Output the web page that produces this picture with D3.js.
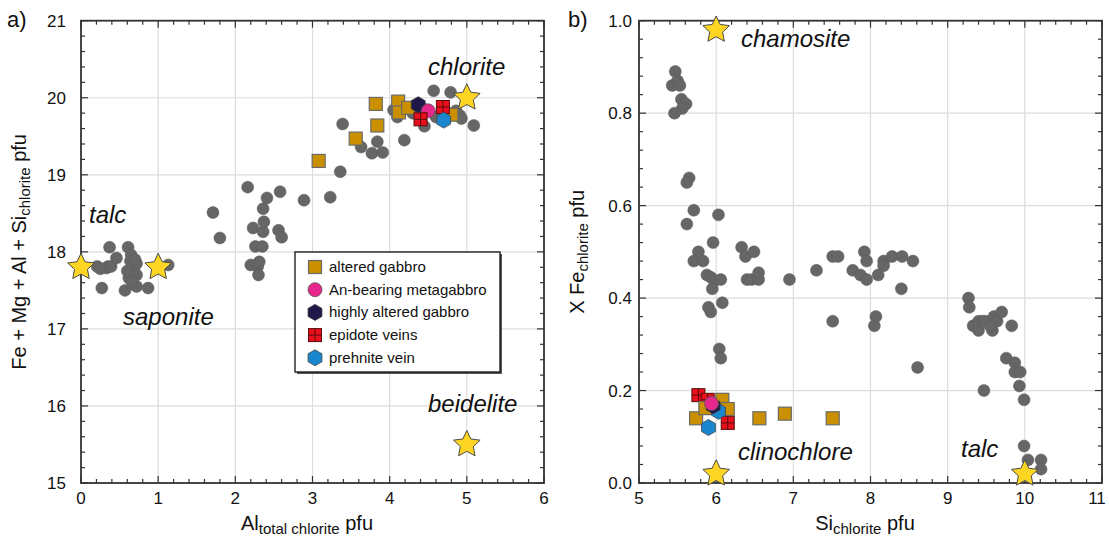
<!DOCTYPE html>
<html>
<head>
<meta charset="utf-8">
<script src="https://cdn.jsdelivr.net/npm/d3@7"></script>
<style>
  body { margin: 0; background: #fff; }
  svg { display: block; }
  text { font-family: "Liberation Sans", Arial, Helvetica, sans-serif; fill: #111; }
</style>
</head>
<body>
<svg id="chart" width="1109" height="540"></svg>
<script>
// ---------- Panel a: Al(total) vs Fe + Mg + Al + Si (pfu) ----------
const grayA = [
  [0.21,17.81],[0.27,17.53],[0.33,17.79],[0.35,17.81],[0.37,18.06],[0.39,17.81],[0.46,17.92],
  [0.57,17.50],[0.61,18.06],[0.62,17.66],[0.65,17.96],[0.68,17.58],[0.69,17.79],[0.72,17.70],
  [0.72,17.85],[0.72,17.55],[0.87,17.53],[1.13,17.83],[0.60,17.75],[0.64,17.88],[0.66,17.62],
  [0.70,17.90],[0.25,17.78],
  [1.71,18.51],[1.80,18.18],[2.16,18.84],[2.23,18.31],[2.20,17.83],[2.26,18.07],[2.29,17.81],
  [2.30,17.70],[2.31,17.87],[2.35,18.07],[2.36,18.26],[2.36,18.56],[2.37,18.39],[2.41,18.70],
  [2.56,18.28],[2.58,18.78],[2.60,18.19],[2.89,18.67],[3.23,18.71],[3.36,19.04],[3.39,19.66],
  [3.63,19.36],[3.77,19.28],[3.84,19.43],[3.91,19.29],[4.05,19.84],[4.10,19.75],[4.19,19.45],
  [4.45,19.63],[4.57,20.09],[4.79,20.07],[4.86,19.83],[4.91,19.77],[4.93,19.73],[5.09,19.64],
  [4.30,19.80],[4.60,19.75],[4.45,19.85],[4.75,19.80]
];
const gabbroA   = [[3.08,19.18],[3.56,19.47],[3.82,19.92],[3.84,19.64],[4.11,19.95],[4.12,19.81],[4.24,19.87],[4.80,19.78]];
const highlyA   = [[4.37,19.91]];
const anBearA   = [[4.50,19.83]];
const epidoteA  = [[4.40,19.72],[4.69,19.88]];
const prehniteA = [[4.70,19.71]];
const endA      = [[0,17.8],[1,17.8],[5,20.0],[5,15.5]];
const xTicksA   = [0,1,2,3,4,5,6];
const yTicksA   = [15,16,17,18,19,20,21];

// ---------- Panel b: Si vs X Fe (pfu) ----------
const grayB = [
  [5.43,0.86],[5.47,0.89],[5.50,0.87],[5.53,0.86],[5.55,0.83],[5.61,0.82],[5.56,0.81],[5.46,0.80],
  [5.65,0.66],[5.62,0.65],[5.71,0.59],[6.03,0.58],[5.62,0.56],[5.96,0.52],[5.77,0.50],[5.71,0.48],
  [5.83,0.48],[6.33,0.51],[6.38,0.49],[6.49,0.50],[7.51,0.49],[7.58,0.49],[7.92,0.50],[7.95,0.48],
  [8.17,0.48],[8.17,0.47],[8.28,0.49],[8.41,0.49],[8.55,0.48],
  [5.88,0.45],[5.93,0.445],[5.98,0.438],[5.95,0.42],[6.06,0.44],[5.90,0.38],[5.93,0.37],[6.08,0.39],
  [6.04,0.29],[6.06,0.27],[6.40,0.44],[6.46,0.44],[6.55,0.44],[6.55,0.455],[6.95,0.44],[7.30,0.46],
  [7.51,0.35],[7.77,0.46],[7.87,0.45],[7.95,0.44],[8.10,0.45],[8.05,0.34],[8.07,0.36],[8.40,0.42],
  [8.61,0.25],
  [9.27,0.40],[9.28,0.38],[9.33,0.34],[9.40,0.33],[9.40,0.35],[9.45,0.35],[9.49,0.35],[9.58,0.33],
  [9.60,0.36],[9.64,0.35],[9.70,0.37],[9.83,0.34],[9.55,0.34],[9.47,0.20],[9.76,0.27],[9.87,0.26],
  [9.87,0.24],[9.94,0.24],[9.93,0.21],[9.99,0.18],[9.99,0.08],[10.04,0.05],[10.21,0.05],[10.21,0.03]
];
const gabbroB   = [[5.74,0.14],[5.86,0.162],[6.08,0.18],[6.15,0.16],[6.56,0.14],[6.89,0.15],[7.51,0.14]];
const epidoteB  = [[5.77,0.19],[5.89,0.18],[6.15,0.13]];
const highlyB   = [[5.96,0.167]];
const anBearB   = [[5.94,0.172]];
const prehniteB = [[5.90,0.12],[6.03,0.155]];
const endB      = [[6,0.98],[6,0.02],[10,0.02]];
const xTicksB   = [5,6,7,8,9,10,11];
const yTicksB   = [0,0.2,0.4,0.6,0.8,1.0];

// ---------- Legend ----------
const legendNames = ["altered gabbro","An-bearing metagabbro","highly altered gabbro","epidote veins","prehnite vein"];

// ---------- styling ----------
const W = 1109;
const C = {
  gray: "#666666", gold: "#CA9000", pink: "#E6288C", navy: "#21184A",
  red: "#E8101C", blue: "#1A86CE", star: "#FDD522", frame: "#333", grid: "#dcdcdc"
};

const svg = d3.select("#chart");

function starPath(R, r) {
  const pts = [];
  for (let i = 0; i < 10; i++) {
    const a = -Math.PI / 2 + i * Math.PI / 5;
    const rad = i % 2 === 0 ? R : r;
    pts.push([rad * Math.cos(a), rad * Math.sin(a)]);
  }
  return "M" + pts.map(p => p.join(",")).join("L") + "Z";
}
function hexPath(R) {
  const pts = [];
  for (let i = 0; i < 6; i++) {
    const a = -Math.PI / 2 + i * Math.PI / 3;
    pts.push([R * Math.cos(a), R * Math.sin(a)]);
  }
  return "M" + pts.map(p => p.join(",")).join("L") + "Z";
}

// marker painters, drawn at the origin of a translated group
const painters = {
  gabbro: g => g.append("rect").attr("x", -6.5).attr("y", -6.5).attr("width", 13).attr("height", 13)
                 .attr("fill", C.gold).attr("stroke", "#6a6a6a").attr("stroke-width", 1.2),
  anBear: g => g.append("circle").attr("r", 7).attr("fill", C.pink).attr("stroke", "#555").attr("stroke-width", 0.8),
  highly: g => g.append("path").attr("d", hexPath(8)).attr("fill", C.navy).attr("stroke", "#333").attr("stroke-width", 0.8),
  epidote: g => {
    g.append("rect").attr("x", -6.5).attr("y", -6.5).attr("width", 13).attr("height", 13)
      .attr("fill", C.red).attr("stroke", "#5a0a0a").attr("stroke-width", 1);
    g.append("path").attr("d", "M0,-6.5V6.5M-6.5,0H6.5").attr("stroke", "#5a0a0a").attr("stroke-width", 1);
  },
  prehnite: g => g.append("path").attr("d", hexPath(8)).attr("fill", C.blue).attr("stroke", "#444").attr("stroke-width", 0.8)
};

function drawPanel(cfg) {
  const x = d3.scaleLinear().domain(cfg.xDomain).range([cfg.left, cfg.right]);
  const y = d3.scaleLinear().domain(cfg.yDomain).range([cfg.bottom, cfg.top]);
  const g = svg.append("g");

  // grid
  g.selectAll(null).data(cfg.xTicks.slice(1, -1)).join("line")
    .attr("x1", d => x(d)).attr("x2", d => x(d)).attr("y1", cfg.top).attr("y2", cfg.bottom)
    .attr("stroke", C.grid).attr("stroke-width", 1.2);
  g.selectAll(null).data(cfg.yTicks.slice(1, -1)).join("line")
    .attr("y1", d => y(d)).attr("y2", d => y(d)).attr("x1", cfg.left).attr("x2", cfg.right)
    .attr("stroke", C.grid).attr("stroke-width", 1.2);

  // inward ticks on all four sides
  const xMinor = d3.range(cfg.xDomain[0], cfg.xDomain[1] + 1e-9, cfg.xMinor);
  const yMinor = d3.range(cfg.yDomain[0], cfg.yDomain[1] + 1e-9, cfg.yMinor);
  const isMajor = (v, arr) => arr.some(t => Math.abs(t - v) < 1e-6);
  const tk = g.append("g").attr("stroke", C.frame).attr("stroke-width", 1.2);
  xMinor.forEach(v => {
    const L = isMajor(v, cfg.xTicks) ? 7 : 4;
    tk.append("line").attr("x1", x(v)).attr("x2", x(v)).attr("y1", cfg.bottom).attr("y2", cfg.bottom - L);
    tk.append("line").attr("x1", x(v)).attr("x2", x(v)).attr("y1", cfg.top).attr("y2", cfg.top + L);
  });
  yMinor.forEach(v => {
    const L = isMajor(v, cfg.yTicks) ? 7 : 4;
    tk.append("line").attr("y1", y(v)).attr("y2", y(v)).attr("x1", cfg.left).attr("x2", cfg.left + L);
    tk.append("line").attr("y1", y(v)).attr("y2", y(v)).attr("x1", cfg.right).attr("x2", cfg.right - L);
  });

  // frame
  g.append("rect").attr("x", cfg.left).attr("y", cfg.top)
    .attr("width", cfg.right - cfg.left).attr("height", cfg.bottom - cfg.top)
    .attr("fill", "none").attr("stroke", C.frame).attr("stroke-width", 1.8);

  // tick labels (kept inside the page at the right edge)
  g.selectAll(null).data(cfg.xTicks).join("text")
    .attr("x", d => Math.min(x(d), W - 12)).attr("y", cfg.bottom + 21).attr("text-anchor", "middle")
    .attr("font-size", 17).text(cfg.xFmt);
  g.selectAll(null).data(cfg.yTicks).join("text")
    .attr("x", cfg.left - cfg.yPad).attr("y", d => y(d) + 6).attr("text-anchor", "end")
    .attr("font-size", 17).text(cfg.yFmt);

  // panel tag
  g.append("text").attr("x", cfg.tagX).attr("y", 27).attr("font-size", 22).text(cfg.tag);

  // axis titles
  const xt = g.append("text").attr("x", cfg.xTitleX).attr("y", cfg.bottom + 47)
    .attr("text-anchor", "middle").attr("font-size", 20);
  xt.append("tspan").text(cfg.xTitle[0]);
  xt.append("tspan").attr("dy", 4).attr("font-size", 15).text(cfg.xTitle[1]);
  xt.append("tspan").attr("dy", -4).text(cfg.xTitle[2]);

  const yt = g.append("text")
    .attr("transform", `translate(${cfg.yTitleX},${(cfg.top + cfg.bottom) / 2}) rotate(-90)`)
    .attr("text-anchor", "middle").attr("font-size", 20);
  yt.append("tspan").text(cfg.yTitle[0]);
  yt.append("tspan").attr("dy", 4).attr("font-size", 15).text(cfg.yTitle[1]);
  yt.append("tspan").attr("dy", -4).text(cfg.yTitle[2]);

  // data: gray analyses
  g.append("g").selectAll("circle").data(cfg.gray).join("circle")
    .attr("cx", d => x(d[0])).attr("cy", d => y(d[1])).attr("r", 6)
    .attr("fill", C.gray).attr("stroke", "#5a5a5a").attr("stroke-width", 0.5);

  // end-member stars
  g.append("g").selectAll("path").data(cfg.ends).join("path")
    .attr("d", starPath(14, 6.8))
    .attr("transform", d => `translate(${x(d[0])},${y(d[1])})`)
    .attr("fill", C.star).attr("stroke", "#4a4a4a").attr("stroke-width", 1);

  // sample groups
  cfg.groups.forEach(([key, data]) => {
    data.forEach(d => {
      const mg = g.append("g").attr("transform", `translate(${x(d[0])},${y(d[1])})`);
      painters[key](mg);
    });
  });

  // end-member labels
  cfg.labels.forEach(l => {
    g.append("text").attr("x", l.x).attr("y", l.y).attr("font-size", 24)
      .attr("font-style", "italic").text(l.t);
  });
  return { x, y, g };
}

drawPanel({
  left: 81, right: 544, top: 20.7, bottom: 483,
  xDomain: [0, 6], yDomain: [15, 21], xTicks: xTicksA, yTicks: yTicksA,
  xMinor: 0.2, yMinor: 0.2, yPad: 15,
  xFmt: d => d3.format("d")(d), yFmt: d => d3.format("d")(d),
  tag: "a)", tagX: 7, yTitleX: 26, xTitleX: 307,
  xTitle: ["Al", "total chlorite", " pfu"],
  yTitle: ["Fe + Mg + Al + Si", "chlorite", " pfu"],
  gray: grayA, ends: endA,
  groups: [["gabbro", gabbroA], ["highly", highlyA], ["anBear", anBearA], ["epidote", epidoteA], ["prehnite", prehniteA]],
  labels: [
    { t: "chlorite", x: 428, y: 75 }, { t: "talc", x: 89, y: 223 },
    { t: "saponite", x: 123, y: 325 }, { t: "beidelite", x: 428, y: 412 }
  ]
});

drawPanel({
  left: 639, right: 1102, top: 20.7, bottom: 483,
  xDomain: [5, 11], yDomain: [0, 1], xTicks: xTicksB, yTicks: yTicksB,
  xMinor: 0.2, yMinor: 0.04, yPad: 7,
  xFmt: d => d3.format("d")(d), yFmt: d => d3.format(".1f")(d),
  tag: "b)", tagX: 568, yTitleX: 584, xTitleX: 865,
  xTitle: ["Si", "chlorite", " pfu"],
  yTitle: ["X Fe", "chlorite", " pfu"],
  gray: grayB, ends: endB,
  groups: [["epidote", epidoteB], ["gabbro", gabbroB], ["prehnite", prehniteB], ["highly", highlyB], ["anBear", anBearB]],
  labels: [
    { t: "chamosite", x: 741, y: 47 }, { t: "clinochlore", x: 738, y: 460 },
    { t: "talc", x: 961, y: 457 }
  ]
});

// legend in panel a
const leg = svg.append("g");
const lx = 295, ly = 252, lw = 205, lh = 120;
leg.append("rect").attr("x", lx + 2).attr("y", ly + 2).attr("width", lw).attr("height", lh).attr("fill", "#555");
leg.append("rect").attr("x", lx).attr("y", ly).attr("width", lw).attr("height", lh)
  .attr("fill", "#fff").attr("stroke", "#111").attr("stroke-width", 1.3);
const legKeys = ["gabbro", "anBear", "highly", "epidote", "prehnite"];
legendNames.forEach((name, i) => {
  const cy = ly + 15 + i * 22.7;
  painters[legKeys[i]](leg.append("g").attr("transform", `translate(${lx + 20},${cy})`));
  leg.append("text").attr("x", lx + 34).attr("y", cy + 5).attr("font-size", 15).text(name);
});
</script>
</body>
</html>
